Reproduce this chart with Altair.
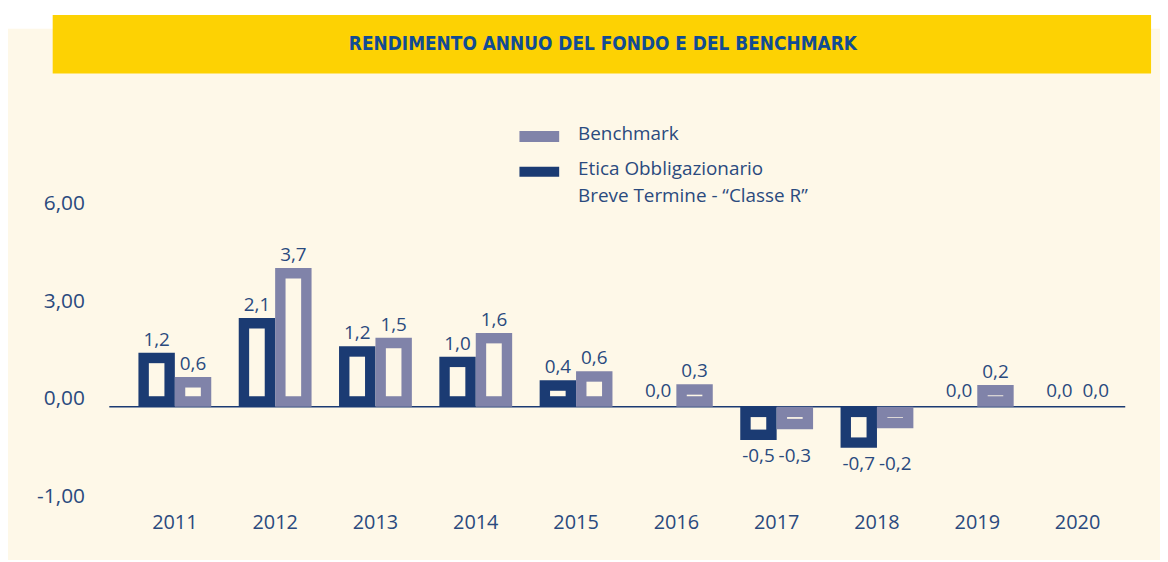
import altair as alt
import pandas as pd

# ---- data ----
years = ["2011", "2012", "2013", "2014", "2015", "2016", "2017", "2018", "2019", "2020"]
series = ["Etica Obbligazionario Breve Termine - “Classe R”", "Benchmark"]
# bar heights
fund_bar = [1.66, 2.73, 1.86, 1.54, 0.81, 0.0, -0.34, -0.42, 0.0, 0.0]
bench_bar = [0.91, 4.27, 2.12, 2.27, 1.09, 0.69, -0.23, -0.22, 0.67, 0.0]
# printed returns (labels above/below bars)
fund_ret = [1.2, 2.1, 1.2, 1.0, 0.4, 0.0, -0.5, -0.7, 0.0, 0.0]
bench_ret = [0.6, 3.7, 1.5, 1.6, 0.6, 0.3, -0.3, -0.2, 0.2, 0.0]
y_ticks = [-1, 0, 3, 6]
y_tick_labels = ["-1,00", "0,00", "3,00", "6,00"]
title_text = "RENDIMENTO ANNUO DEL FONDO E DEL BENCHMARK"
legend_lines = ["Benchmark", "Etica Obbligazionario", "Breve Termine - “Classe R”"]

# ---- styling ----
NAVY = "#1B3B73"
LAVENDER = "#8083A9"
CREAM = "#FEF8E8"
YELLOW = "#FDD203"
TITLE_COL = "#114C93"
TEXT_COL = "#2A4A7E"
FONT = "Open Sans"
TITLE_FONT = "Liberation Sans Narrow, DejaVu Sans Condensed, sans-serif"

W, H = 1160, 554

rows = []
for i, yr in enumerate(years):
    rows.append({"year": yr, "series": series[0], "value": fund_bar[i],
                 "label": f"{fund_ret[i]:.1f}".replace(".", ",")})
    rows.append({"year": yr, "series": series[1], "value": bench_bar[i],
                 "label": f"{bench_ret[i]:.1f}".replace(".", ",")})
df = pd.DataFrame(rows)
one = pd.DataFrame({"k": [0]})

label_expr = " : ".join(
    f"datum.value == {v} ? '{t}'" for v, t in zip(y_ticks, y_tick_labels)
) + " : ''"

X = alt.X("year:N", sort=years, title=None,
          scale=alt.Scale(range=[117.5, 1127.5], paddingInner=0.274, paddingOuter=0.137),
          axis=alt.Axis(labelAngle=0, ticks=False, domain=False, labelFont=FONT,
                        labelFontSize=20, labelColor=TEXT_COL, labelPadding=0,
                        offset=-38, labelBaseline="middle", zindex=2))
XO = alt.XOffset("series:N", sort=series, scale=alt.Scale(domain=series, paddingInner=0, paddingOuter=0))
Y = alt.Y("value:Q", title=None,
          scale=alt.Scale(domain=[-1, 0, 6], range=[498.3, 399.5, 203.3], nice=False, zero=False),
          axis=alt.Axis(values=y_ticks, labelExpr=label_expr, ticks=False, domain=False, grid=False,
                        labelFont=FONT, labelFontSize=21, labelColor=TEXT_COL, labelPadding=0,
                        offset=-77, labelOffset=-8, zindex=2))
C = alt.Color("series:N", scale=alt.Scale(domain=series, range=[NAVY, LAVENDER]), legend=None)

bg = alt.Chart(one).mark_rect(color=CREAM).encode(
    x=alt.value(0), x2=alt.value(W), y=alt.value(19), y2=alt.value(H))
banner = alt.Chart(one).mark_rect(color=YELLOW).encode(
    x=alt.value(45), x2=alt.value(1151), y=alt.value(5), y2=alt.value(64))
title = alt.Chart(one).mark_text(
    text=title_text, font=TITLE_FONT, fontWeight="bold", fontSize=19,
    color=TITLE_COL, align="center", baseline="middle").encode(x=alt.value(599), y=alt.value(34))

zero_line = alt.Chart(one).mark_rule(color=NAVY, strokeWidth=1.5).encode(
    x=alt.value(102), x2=alt.value(1125), y=alt.YDatum(0, title=None))

bars = alt.Chart(df).transform_filter("datum.value != 0").mark_bar().encode(
    x=X, xOffset=XO, y=Y, color=C)
inner_pos = alt.Chart(df).transform_filter("datum.value > 0").mark_bar(
    color=CREAM, width=15.7, yOffset=10.5, y2Offset=-10.5).encode(
    x=X, xOffset=XO, y=Y, y2=alt.datum(0))
inner_neg = alt.Chart(df).transform_filter("datum.value < 0").mark_bar(
    color=CREAM, width=15.7, yOffset=-10.5, y2Offset=10.5).encode(
    x=X, xOffset=XO, y=Y, y2=alt.datum(0))

txt = dict(font=FONT, fontSize=19, color=TEXT_COL, align="center", baseline="alphabetic")
lab_pos = alt.Chart(df).transform_filter("datum.value > 0").mark_text(dy=-7, **txt).encode(
    x=X, xOffset=XO, y=Y, text="label:N")
lab_zero = alt.Chart(df).transform_filter("datum.value == 0").mark_text(dy=-10, **txt).encode(
    x=X, xOffset=XO, y=Y, text="label:N")
lab_neg = alt.Chart(df).transform_joinaggregate(gmin="min(value)", groupby=["year"]).transform_filter(
    "datum.value < 0").mark_text(dy=22, **txt).encode(
    x=X, xOffset=XO, y=alt.Y("gmin:Q", title=None), text="label:N")

leg_b = alt.Chart(one).mark_rect(color=LAVENDER).encode(
    x=alt.value(515), x2=alt.value(555), y=alt.value(122), y2=alt.value(133))
leg_f = alt.Chart(one).mark_rect(color=NAVY).encode(
    x=alt.value(515), x2=alt.value(555), y=alt.value(158), y2=alt.value(168))
ltxt = dict(font=FONT, fontSize=19, color=TEXT_COL, align="left", baseline="middle")
leg_t1 = alt.Chart(one).mark_text(text=legend_lines[0], **ltxt).encode(x=alt.value(574), y=alt.value(125))
leg_t2 = alt.Chart(one).mark_text(text=legend_lines[1], **ltxt).encode(x=alt.value(574), y=alt.value(160))
leg_t3 = alt.Chart(one).mark_text(text=legend_lines[2], **ltxt).encode(x=alt.value(574), y=alt.value(187))

chart = alt.layer(
    bg, banner, title, zero_line, bars, inner_pos, inner_neg,
    lab_pos, lab_zero, lab_neg, leg_b, leg_f, leg_t1, leg_t2, leg_t3
).properties(
    width=W, height=H, autosize=alt.AutoSizeParams(type="none"), padding=0,
    background="white"
).configure_view(stroke=None)

chart.save("out.html", embed_options={"renderer": "svg", "actions": False})
